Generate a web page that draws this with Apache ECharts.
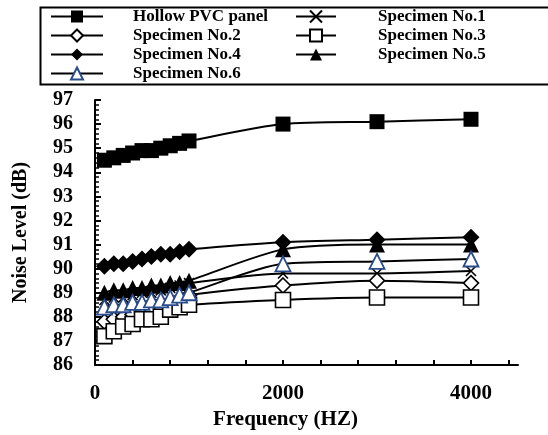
<!DOCTYPE html>
<html>
<head>
<meta charset="utf-8">
<script src="https://cdn.jsdelivr.net/npm/echarts@6/dist/echarts.min.js"></script>
<style>html,body{margin:0;padding:0;background:#fff}#c{width:548px;height:435px}</style>
</head>
<body>
<div id="c"></div>
<script>
const frequency = [100, 200, 300, 400, 500, 600, 700, 800, 900, 1000, 2000, 3000, 4000];
const hollowPVC = [94.5, 94.6, 94.7, 94.8, 94.9, 94.9, 95.0, 95.1, 95.2, 95.3, 96.0, 96.1, 96.2];
const specimen1 = [88.7, 88.8, 88.8, 88.9, 89.0, 89.0, 89.1, 89.2, 89.3, 89.4, 89.8, 89.8, 89.9];
const specimen2 = [87.8, 87.9, 88.0, 88.1, 88.2, 88.3, 88.4, 88.5, 88.7, 88.9, 89.3, 89.5, 89.4];
const specimen3 = [87.2, 87.4, 87.6, 87.7, 87.9, 87.9, 88.0, 88.3, 88.4, 88.5, 88.7, 88.8, 88.8];
const specimen4 = [90.1, 90.2, 90.2, 90.3, 90.4, 90.5, 90.6, 90.6, 90.7, 90.8, 91.1, 91.2, 91.3];
const specimen5 = [89.0, 89.1, 89.1, 89.2, 89.2, 89.3, 89.3, 89.4, 89.4, 89.5, 90.8, 91.0, 91.0];
const specimen6 = [88.4, 88.5, 88.5, 88.6, 88.6, 88.7, 88.7, 88.8, 88.9, 89.0, 90.2, 90.3, 90.4];
const seriesNames = ['Hollow PVC panel', 'Specimen No.1', 'Specimen No.2', 'Specimen No.3', 'Specimen No.4', 'Specimen No.5', 'Specimen No.6'];
const xTickValues = [0, 400, 800, 1200, 1600, 2000, 2400, 2800, 3200, 3600, 4000, 4400];
const xLabelValues = [0, 2000, 4000];

const FONT = 'Liberation Serif';
const BLUE = '#2B4C8C';
const crossPath = 'path://M0,0L10,10M10,0L0,10';

const styles = [
  {symbol: 'rect', size: 15, color: '#000', fill: '#000', bw: 0},
  {symbol: crossPath, size: 10, color: '#000', fill: 'none', bw: 1.6},
  {symbol: 'diamond', size: 15, color: '#000', fill: '#fff', bw: 1.6},
  {symbol: 'rect', size: 15, color: '#000', fill: '#fff', bw: 1.6},
  {symbol: 'diamond', size: 17, color: '#000', fill: '#000', bw: 0},
  {symbol: 'triangle', size: 16, color: '#000', fill: '#000', bw: 0},
  {symbol: 'triangle', size: 15, color: BLUE, fill: '#fff', bw: 1.8}
];
const values = [hollowPVC, specimen1, specimen2, specimen3, specimen4, specimen5, specimen6];

const series = seriesNames.map((name, i) => ({
  name: name,
  type: 'line',
  smooth: 0.25,
  symbol: styles[i].symbol,
  symbolSize: styles[i].size,
  showAllSymbol: true,
  lineStyle: {color: '#000', width: 2},
  itemStyle: {color: styles[i].fill, borderColor: styles[i].color, borderWidth: styles[i].bw},
  data: frequency.map((f, j) => [f, values[i][j]])
}));

const legendText = {fontFamily: FONT, fontWeight: 'bold', fontSize: 17, color: '#000', lineHeight: 16};

const chart = echarts.init(document.getElementById('c'), null, {renderer: 'canvas'});
chart.setOption({
  animation: false,
  backgroundColor: '#fff',
  graphic: [{
    type: 'rect', left: 38, top: 5,
    shape: {width: 530, height: 77},
    style: {fill: 'none', stroke: '#000', lineWidth: 2}, z: 100
  }],
  legend: [
    {
      data: [seriesNames[0], seriesNames[2], seriesNames[4], seriesNames[6]],
      orient: 'vertical', left: 45, top: 3,
      itemWidth: 52, itemHeight: 15, itemGap: 2,
      textStyle: Object.assign({padding: [0, 0, 0, 25]}, legendText)
    },
    {
      data: [seriesNames[1], seriesNames[3], seriesNames[5]],
      orient: 'vertical', left: 290, top: 3,
      itemWidth: 40, itemHeight: 15, itemGap: 2,
      textStyle: Object.assign({padding: [0, 0, 0, 37]}, legendText)
    }
  ],
  grid: {left: 95, right: 30, top: 100, bottom: 64, containLabel: false},
  xAxis: {
    type: 'value', min: 0, max: 4500,
    name: 'Frequency (HZ)', nameLocation: 'middle', nameGap: 44,
    nameTextStyle: {fontFamily: FONT, fontWeight: 'bold', fontSize: 21, color: '#000', padding: [0, 42, 0, 0]},
    axisLine: {show: true, lineStyle: {color: '#000', width: 2}},
    axisTick: {show: true, inside: true, length: 5, customValues: xTickValues, lineStyle: {color: '#000', width: 2}},
    axisLabel: {customValues: xLabelValues, formatter: v => String(v), fontFamily: FONT, fontWeight: 'bold', fontSize: 21, color: '#000', margin: 18},
    splitLine: {show: false}
  },
  yAxis: {
    type: 'value', min: 86, max: 97, interval: 1,
    name: 'Noise Level (dB)', nameLocation: 'middle', nameGap: 64, nameRotate: 90,
    nameTextStyle: {fontFamily: FONT, fontWeight: 'bold', fontSize: 20, color: '#000'},
    axisLine: {show: true, lineStyle: {color: '#000', width: 2}},
    axisTick: {show: true, inside: true, length: 6, lineStyle: {color: '#000', width: 2}},
    minorTick: {show: true, splitNumber: 5, length: 4, lineStyle: {color: '#000', width: 1.5}},
    axisLabel: {fontFamily: FONT, fontWeight: 'bold', fontSize: 20, color: '#000', margin: 22},
    splitLine: {show: false}
  },
  series: series
});
</script>
</body>
</html>
